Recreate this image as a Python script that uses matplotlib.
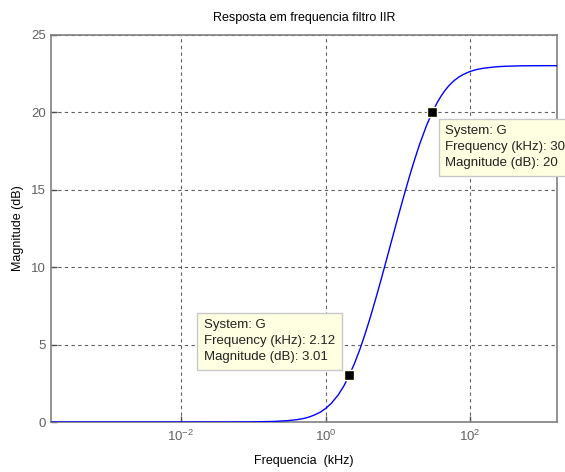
import matplotlib
matplotlib.use("Agg")
import matplotlib.pyplot as plt
from matplotlib.ticker import FixedLocator, NullLocator, FixedFormatter

plt.rcParams['font.family'] = ['Liberation Sans', 'DejaVu Sans']
plt.rcParams['mathtext.fontset'] = 'custom'
plt.rcParams['mathtext.rm'] = 'Liberation Sans'
plt.rcParams['mathtext.it'] = 'Liberation Sans'

# Data (frequency in kHz, magnitude in dB)
freq_khz = [1.585e-4, 1e-3, 1e-2, 0.05, 0.1, 0.2, 0.3, 0.4, 0.5, 0.6, 0.7, 0.85, 1.0, 1.2,
            1.5, 1.8, 2.12, 2.5, 3.0, 3.5, 4.0, 4.5, 5.0, 6.0, 7.0, 8.0, 10.0, 12.0, 15.0,
            17.0, 20.0, 25.0, 30.0, 35.0, 40.0, 45.0, 50.0, 60.0, 70.0, 80.0, 100.0, 120.0,
            150.0, 200.0, 250.0, 300.0, 500.0, 1000.0, 1585.0]
mag_db = [0.0, 0.0, 0.0, 0.002, 0.01, 0.04, 0.09, 0.15, 0.23, 0.33, 0.45, 0.64, 0.87, 1.20,
          1.75, 2.34, 3.01, 3.75, 4.72, 5.64, 6.50, 7.30, 8.04, 9.36, 10.51, 11.52, 13.19,
          14.53, 16.10, 16.92, 17.93, 19.16, 20.0, 20.62, 21.07, 21.41, 21.67, 22.04, 22.27,
          22.43, 22.63, 22.74, 22.83, 22.90, 22.94, 22.96, 22.99, 23.0, 23.0]

tip_freq = [2.12, 30]
tip_mag = [3.01, 20]
tip_labels = ["System: G\nFrequency (kHz): 2.12\nMagnitude (dB): 3.01",
              "System: G\nFrequency (kHz): 30\nMagnitude (dB): 20"]

title = "Resposta em frequencia filtro IIR"
xlabel = "Frequencia  (kHz)"
ylabel = "Magnitude (dB)"
xticks = [1e-2, 1e0, 1e2]
xticklabels = ["$10^{-2}$", "$10^{0}$", "$10^{2}$"]
yticks = [0, 5, 10, 15, 20, 25]

fig = plt.figure(figsize=(5.65, 4.72), dpi=100)
ax = fig.add_axes([0.0897, 0.1059, 0.9858 - 0.0897, 0.9265 - 0.1059])

ax.semilogx(freq_khz, mag_db, color=(0, 0, 1), lw=1.0, zorder=3)
ax.set_xlim(1.585e-4, 1585)
ax.set_ylim(0, 25)

ax.xaxis.set_major_locator(FixedLocator(xticks))
ax.xaxis.set_major_formatter(FixedFormatter(xticklabels))
ax.xaxis.set_minor_locator(NullLocator())
ax.set_yticks(yticks)

gray = '#808080'
for s in ax.spines.values():
    s.set_color(gray)
    s.set_linewidth(1.2)
ax.tick_params(axis='both', colors='#505050', labelcolor='#606060', labelsize=9.5,
               direction='in', length=4, width=1)
ax.tick_params(axis='x', pad=5)
ax.grid(True, color='#606060', linestyle=(0, (3, 3)), linewidth=0.8)

ax.set_title(title, fontsize=9, pad=10)
ax.set_xlabel(xlabel, fontsize=9, labelpad=8)
ax.set_ylabel(ylabel, fontsize=9, labelpad=5)

# markers
ax.plot(tip_freq, tip_mag, linestyle='none', marker='s', markersize=7,
        markerfacecolor='black', markeredgecolor='#FFFFE1', markeredgewidth=1, zorder=5)

box = dict(boxstyle='square,pad=0.5', facecolor='#FFFFE1', edgecolor='#C8C8C8', linewidth=1)
ax.annotate(tip_labels[0], xy=(tip_freq[0], tip_mag[0]), xytext=(-14, 12),
            textcoords='offset pixels', fontsize=9.5, ha='right', va='bottom',
            multialignment='left', bbox=box, linespacing=1.45, zorder=6,
            annotation_clip=False, color='#222222')
ax.annotate(tip_labels[1], xy=(tip_freq[1], tip_mag[1]), xytext=(13, -13),
            textcoords='offset pixels', fontsize=9.5, ha='left', va='top',
            multialignment='left', bbox=box, linespacing=1.45, zorder=6,
            annotation_clip=False, color='#222222')

fig.savefig("out.png", dpi=100)
